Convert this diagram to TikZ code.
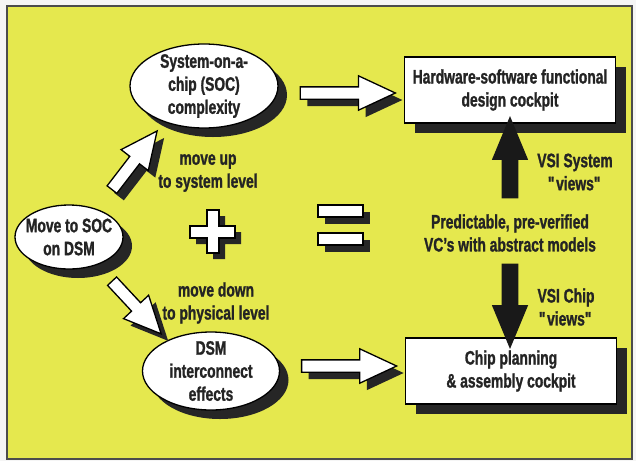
\documentclass[tikz,border=0pt]{standalone}
\usepackage{fontspec}
\setmainfont{Liberation Sans}[FakeStretch=0.71, BoldFeatures={FakeBold=1.2}]
\usetikzlibrary{shapes.geometric,shapes.arrows,shadows}
\definecolor{panel}{RGB}{229,232,78}
\definecolor{ink}{RGB}{36,36,36}
\newcommand\qq{\textquotedbl\kern-1pt}

\begin{document}
\begin{tikzpicture}[x=1pt, y=-1pt, line width=1.3pt,
   castshadow/.style={drop shadow={shadow xshift=#1, shadow yshift=-#1, opacity=1, fill=black!85}},
   bubble/.style={ellipse, draw=black, fill=white, inner sep=0pt, castshadow=9pt},
   cockpit/.style={rectangle, draw=black, fill=white, minimum width=211pt, minimum height=66pt, castshadow=10pt},
   whitearrow/.style={single arrow, draw=black, fill=white, inner sep=5.5pt, single arrow head extend=11pt,
      single arrow tip angle=50, sloped, allow upside down, castshadow=7pt},
   blackarrow/.style={single arrow, draw=black!90, fill=black!90, inner sep=7pt, single arrow head extend=9.5pt,
      single arrow tip angle=45, sloped, allow upside down}]

   % page and panel
   \fill[black!4] (0,0) rectangle (636,461);
   \filldraw[fill=panel, draw=black!70, line width=1.5pt] (7,6) rectangle (632,459);

   \begin{scope}[every node/.style={font=\fontsize{19.5}{23}\selectfont\bfseries, text=ink, align=center}]
    \node[bubble, minimum width=108pt, minimum height=64pt, inner xsep=-5pt, inner ysep=-4pt] (move) at (69,237) {Move to SOC\\on DSM};
    \node[bubble, minimum width=148pt, minimum height=84pt, inner ysep=-4pt] (soc) at (204,86) {System-on-a-\\chip (SOC)\\complexity};
    \node[bubble, minimum width=137pt, minimum height=78pt, inner ysep=-5pt] (dsm) at (211,371) {DSM\\interconnect\\effects};
    \node[cockpit] (hw) at (510,90) {Hardware-software functional\\design cockpit};
    \node[cockpit] (chip) at (511,371) {Chip planning\\\& assembly cockpit};

    \node (up) at (208,173) {move up\\to system level};
    \node (down) at (216,303) {move down\\to physical level};
    \node (pred) at (510,233) {Predictable, pre-verified\\VC's with abstract models};
    \node (sysview) at (575,172) {VSI System\\\qq views\qq};
    \node (chipview) at (566,307) {VSI Chip\\\qq views\qq};
   \end{scope}

   % plus and equals
   \begin{scope}[fill=white, draw=black, line width=1.2pt]
    \filldraw[castshadow=6pt] (207,210) -- (219,210) -- (219,226) -- (235,226) -- (235,238) -- (219,238)
       -- (219,253) -- (207,253) -- (207,238) -- (190,238) -- (190,226) -- (207,226) -- cycle;
    \filldraw[castshadow=7pt] (318,205) rectangle (363,217);
    \filldraw[castshadow=7pt] (318,233) rectangle (363,245);
   \end{scope}

   % hollow arrows
   \path (move.45) -- node[whitearrow, minimum height=74pt] {} (soc.222);
   \path (move.-45) -- node[whitearrow, minimum height=72pt] {} (dsm.145);
   \path (soc.east) -- node[whitearrow, minimum height=95pt, yshift=-7pt] {} (soc.east -| hw.west);
   \path (dsm.east) -- node[whitearrow, minimum height=95pt, yshift=5pt] {} (dsm.east -| chip.west);

   % views arrows
   \path (pred.north) -- node[blackarrow, minimum height=80pt] {} (pred.north |- hw.south);
   \path (pred.south) -- node[blackarrow, minimum height=83pt] {} (pred.south |- chip.north);
\end{tikzpicture}
\end{document}
